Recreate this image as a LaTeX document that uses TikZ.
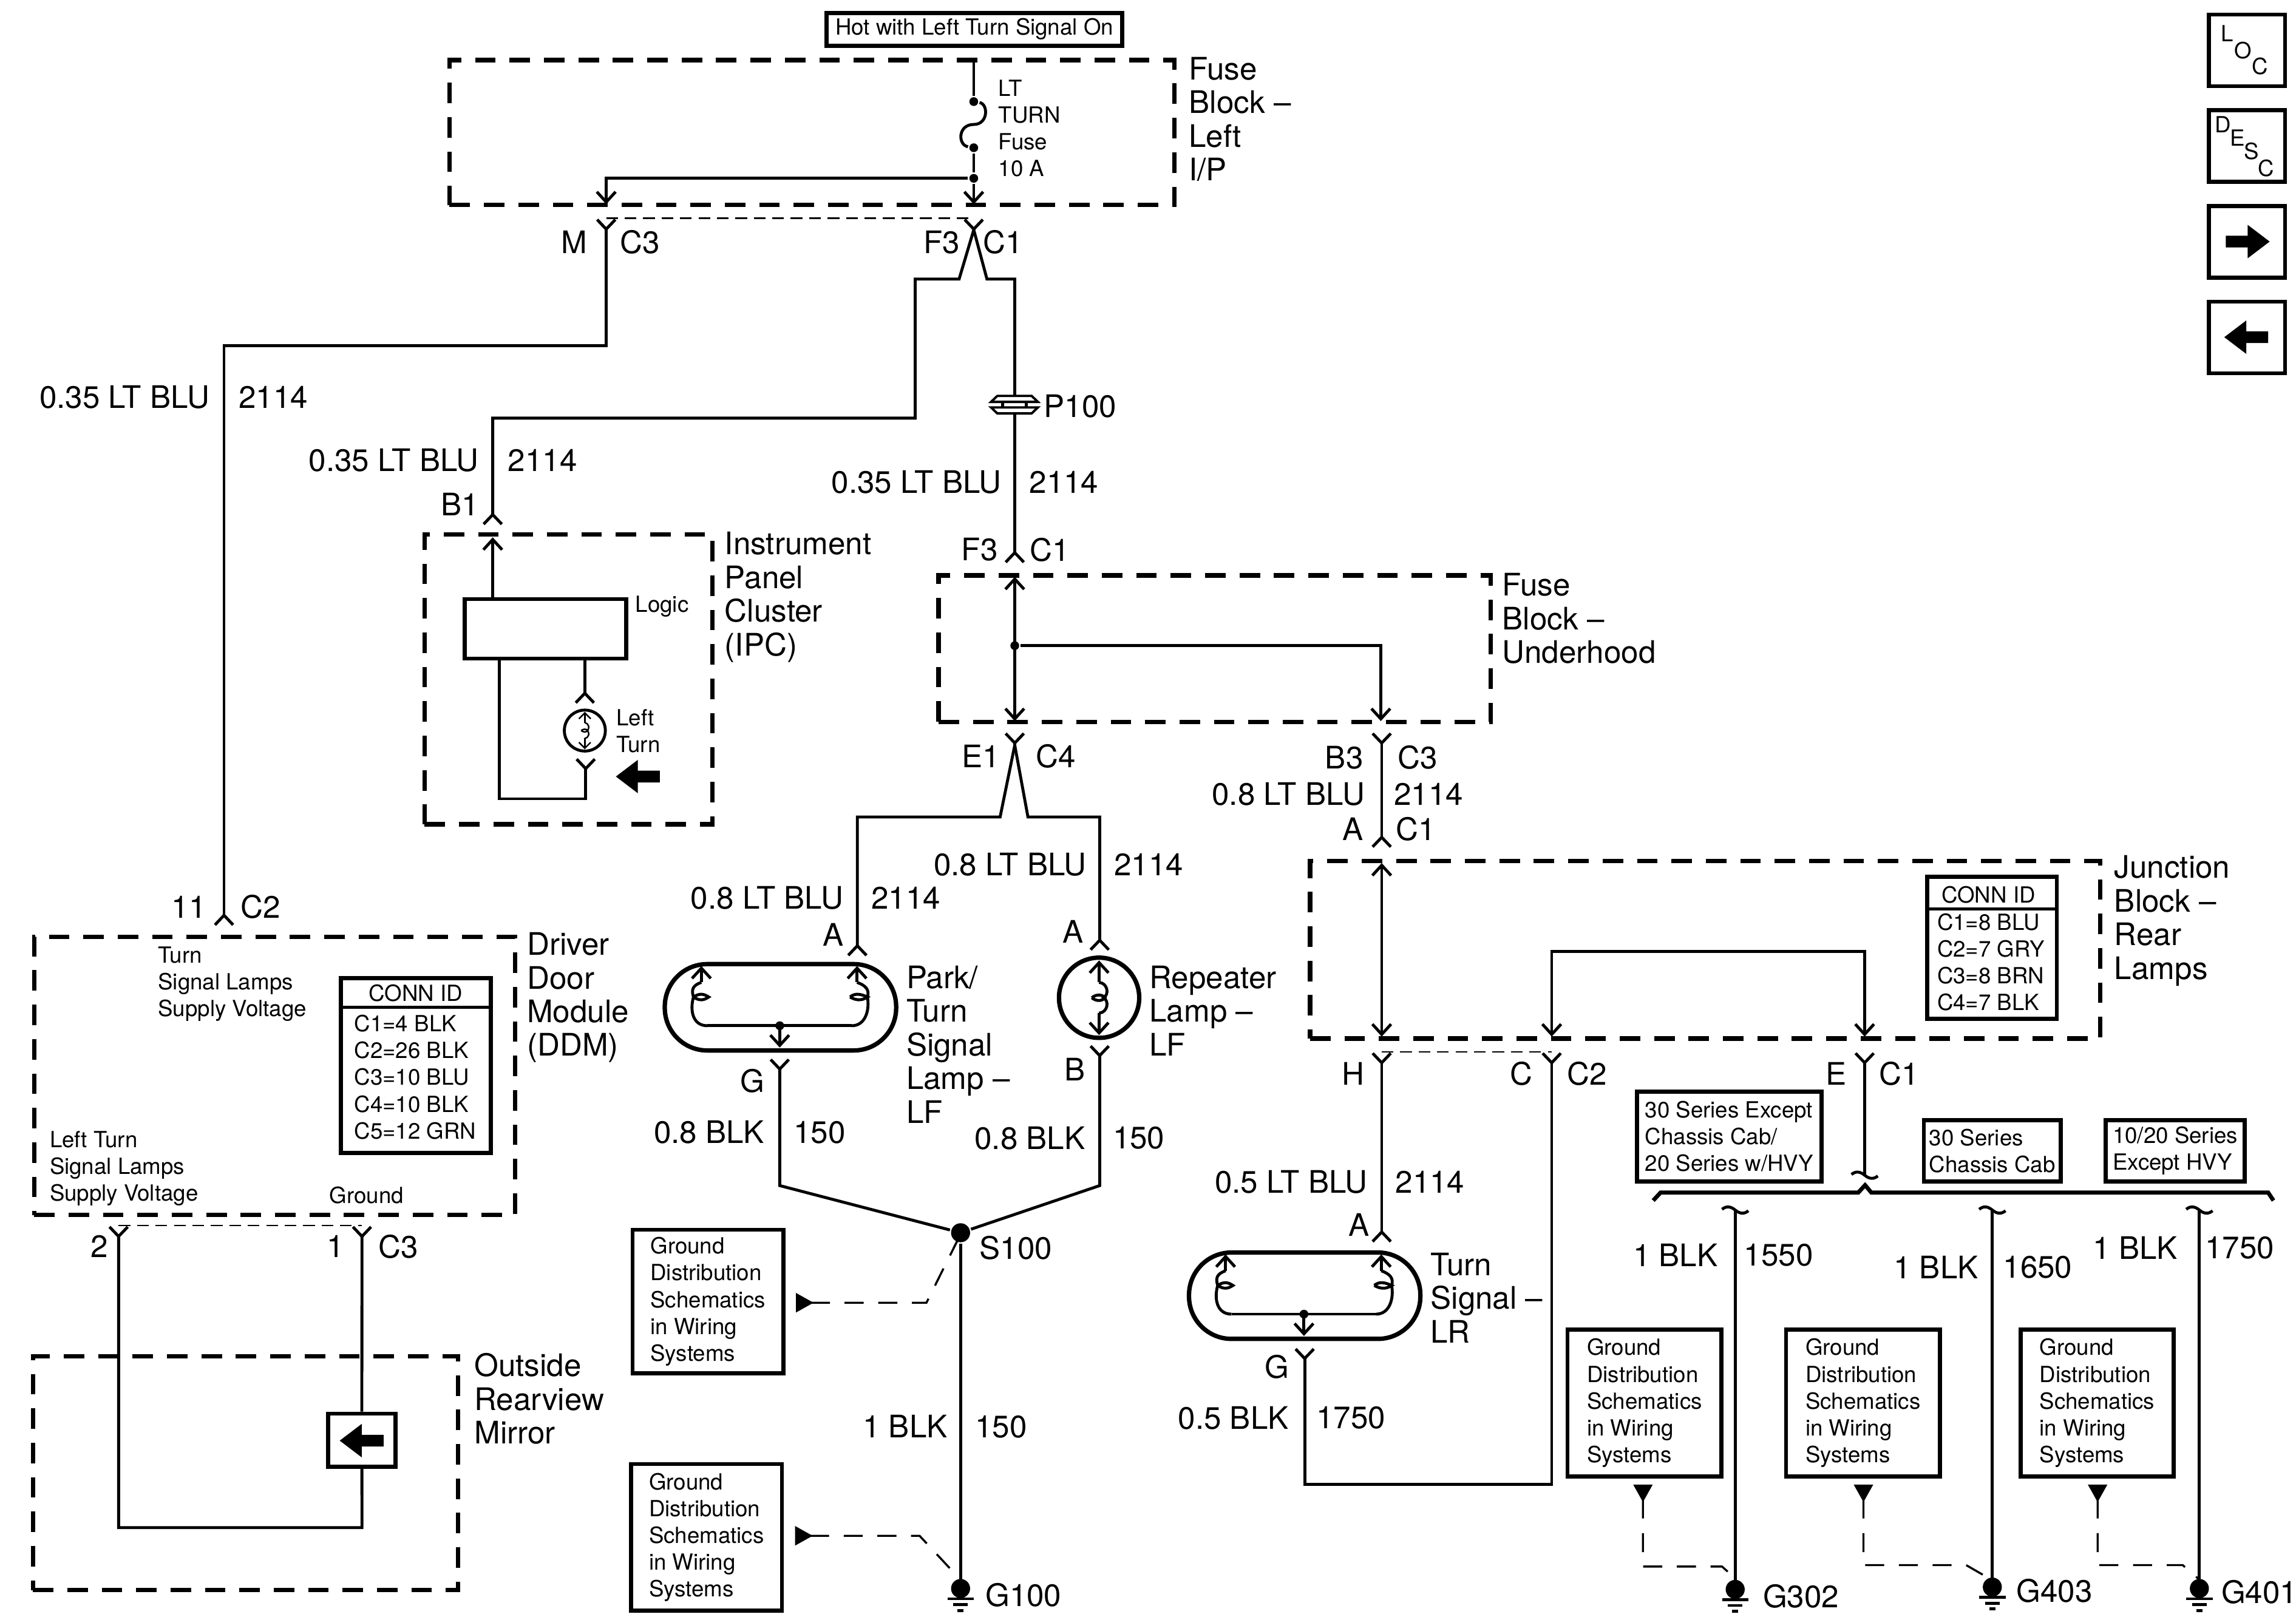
\documentclass[tikz,border=0pt]{standalone}
\usepackage{fontspec}
\setmainfont{TeX Gyre Heros}
\usetikzlibrary{arrows.meta}
\tikzset{
	pin/.tip={Straight Barb[reversed,length=3.25pt,width=6.2pt]},
	lbl/.style={font=\fontsize{10.6}{11.5}\selectfont,inner sep=0pt,align=left,yshift=-.2pt},
	sml/.style={font=\fontsize{7.6}{9.15}\selectfont,inner sep=0pt,align=left,yshift=-.1pt},
	dashbox/.style={draw,line width=1.5pt,dash pattern=on 7pt off 4.75pt,inner sep=0pt},
	framed/.style={draw,line width=1.4pt,inner sep=0pt,fill=white,font=\fontsize{7.6}{9.15}\selectfont,align=left},
	btn/.style={framed,minimum width=26pt,minimum height=24.5pt},
	gdash/.style={line width=.7pt,dash pattern=on 6.5pt off 5pt},
	pdash/.style={line width=.5pt,dash pattern=on 4pt off 2.3pt},
	tri/.tip={Triangle[reversed,length=6pt,width=6.5pt]},
	dot/.style={circle,fill,inner sep=0pt,minimum size=3pt},
	twinlamp/.pic={
		\draw[line width=1.5pt,rounded corners=14.5pt] (-79,-29.5) rectangle (79,29.5);
		\draw (-50,12.6) -- (48.7,12.6);
		\draw[->] (-54,-17) -- (-54,-28.2);
		\draw[->] (52.3,-17) -- (52.3,-28.2);
		\draw (-50,12.6) .. controls (-60,12.6) and (-62,2) .. (-59.4,-7) .. controls (-61,-12) and (-60,-15) .. (-54,-17);
		\draw (48.7,12.6) .. controls (58,12.6) and (61,2) .. (59.4,-7) .. controls (61,-12) and (58,-15) .. (52.3,-17);
		\draw (-59.4,-7) .. controls (-55,-10) and (-52,-9) .. (-49,-7) .. controls (-52,-5) and (-55,-4) .. (-59.4,-7);
		\draw (47.5,-7) .. controls (51,-10) and (55,-9) .. (59.4,-7) .. controls (55,-4) and (51,-5) .. (47.5,-7);
		\node(j) at (-.5,12.6)[dot]{};
		\draw[->] (-.5,12.6) -- (-.5,27.5);
	},
	filament/.pic={
		\draw[->] (0,-10.5) -- (0,-25.5);
		\draw[->] (0,10.5) -- (0,25.5);
		\draw (0,-10.5) .. controls (6,-10) and (7,-2) .. (3,0) .. controls (7,2) and (6,10) .. (0,10.5);
		\draw (-5,0) .. controls (-2,-2.5) and (2,-2.5) .. (4,0) .. controls (2,2.5) and (-2,2.5) .. (-5,0);
	},
	bigarrow/.pic={
		\fill (0,0) -- (15,-11.4) -- (15,-4) -- (30,-4) -- (30,4) -- (15,4) -- (15,11.4) -- cycle;
	},
	earth/.pic={
		\node(d) at (0,0)[dot,minimum size=6.5pt]{};
		\draw (-9,7) -- (9,7);
		\draw (-5,11) -- (5,11);
		\draw (-2,15) -- (2,15);
	},
	tilde/.pic={
		\draw (-9,-.5) .. controls (-6,-3) and (-3,-2.5) .. (0,0) .. controls (3,2.5) and (6,3) .. (9,.5);
	},
	splice/.pic={
		\fill[white] (-8,-2) rectangle (8,2);
		\draw[line width=.8pt,fill=white] (-11.7,-6) -- (11.7,-6) -- (16,-1.9) -- (-16,-1.9) -- cycle;
		\draw[line width=.8pt,fill=white] (-16,1.9) -- (16,1.9) -- (11.7,6) -- (-11.7,6) -- cycle;
		\draw (-8,-1.9) -- (-8,1.9);
		\draw (8,-1.9) -- (8,1.9);
	}
}
\begin{document}
\begin{tikzpicture}[x=.5pt,y=-.5pt,line width=1pt,>={Straight Barb[length=3.5pt,width=6.4pt]}]
	\useasboundingbox (0,0) rectangle (1568,1104.4);

	\node(fuseL) at (554.5,90.5)[dashbox,minimum width=247.5pt,minimum height=49.5pt]{};
	\node(ipc) at (388.25,464)[dashbox,minimum width=98.25pt,minimum height=99pt]{};
	\node(fuseU) at (829.5,443)[dashbox,minimum width=188.5pt,minimum height=50pt]{};
	\node(junc) at (1164.5,648.7)[dashbox,minimum width=269.85pt,minimum height=60.7pt]{};
	\node(ddm) at (187.5,734.8)[dashbox,minimum width=164.15pt,minimum height=95pt]{};
	\node(mirror) at (167.6,1006.3)[dashbox,minimum width=145.15pt,minimum height=79.75pt]{};

	\node(hot) at (665.5,20)[framed,minimum width=101pt,minimum height=11.15pt]{\raisebox{-.8pt}{Hot with Left Turn Signal On}};
	\node(tFuseL) at (811,81)[lbl,anchor=west]{Fuse\\Block --\\Left\\I/P};
	\node(tFuse) at (681,87.5)[sml,anchor=west]{LT\\TURN\\Fuse\\10 A};

	\coordinate(fuseTop) at (665,41);
	\node(fa) at (665,69.4)[dot]{};
	\coordinate(fm) at (665,85);
	\node(fb) at (665,100.9)[dot]{};
	\node(jF) at (665,121.8)[dot]{};
	\coordinate(f3In) at (665,139.5);
	\coordinate(mIn) at (414,139.5);
	\draw (fuseTop) -- (fa);
	\draw (fa) .. controls (675,71) and (675,85) .. (fm) .. controls (654,85) and (654,99) .. (fb);
	\draw (fb) -- (jF);
	\draw[->] (jF) -- (f3In);
	\draw[->] (jF) -| (mIn);

	\coordinate(mPin) at (414,149);
	\coordinate(f3Pin) at (665,149);
	\draw[pdash] (mPin) -- (f3Pin);
	\node(tM) at (392,165)[lbl]{M};
	\node(tC3) at (437,165)[lbl]{C3};
	\node(tF3) at (643,165)[lbl]{F3};
	\node(tC1) at (685,165)[lbl]{C1};

	\coordinate(ddmTurn) at (153,236);
	\coordinate(ddmPin) at (153,632.7);
	\draw[pin-pin] (mPin) |- (ddmTurn) -- (ddmPin);
	\node(t035a) at (144,271)[lbl,anchor=east]{0.35 LT BLU};
	\node(t2114a) at (162,271)[lbl,anchor=west]{2114};

	\coordinate(f3M) at (665,157);
	\coordinate(f3L) at (655,190.6);
	\coordinate(f3Lb) at (625,190.6);
	\coordinate(ipcTurn) at (625,285.6);
	\coordinate(b1Pin) at (336.5,359);
	\draw[pin-pin] (f3Pin) -- (f3M) -- (f3L) -- (f3Lb) -- (ipcTurn) -| (b1Pin);
	\node(t035b) at (328,314)[lbl,anchor=east]{0.35 LT BLU};
	\node(t2114b) at (346,314)[lbl,anchor=west]{2114};
	\node(tB1) at (314,344)[lbl]{B1};

	\coordinate(f3R) at (674,190.6);
	\coordinate(f3Rb) at (693,190.6);
	\coordinate(c1Pin) at (693,385);
	\draw[-pin] (f3M) -- (f3R) -- (f3Rb) -- (c1Pin);
	\pic(p100) at (692.8,276.4) {splice};
	\node(tP100) at (712,277)[lbl,anchor=west]{P100};
	\node(t035c) at (685,329)[lbl,anchor=east]{0.35 LT BLU};
	\node(t2114c) at (702,329)[lbl,anchor=west]{2114};
	\node(tF3b) at (669,375)[lbl]{F3};
	\node(tC1b) at (717,375)[lbl]{C1};

	\node(tIpc) at (494,407.5)[lbl,anchor=west]{Instrument\\Panel\\Cluster\\(IPC)};
	\coordinate(ipcOut) at (336.5,367);
	\node(logic) at (372.5,429.5)[framed,minimum width=55.2pt,minimum height=20.3pt]{};
	\node(tLogic) at (433,414)[sml,anchor=west]{Logic};
	\coordinate(logicTop) at (336.5,409.5);
	\draw[->] (logicTop) -- (ipcOut);
	\coordinate(logicA) at (341,450);
	\coordinate(logicB) at (399.4,450);
	\coordinate(lampTop) at (399.4,481);
	\coordinate(lampBot) at (400,517.5);
	\coordinate(ipcCorner) at (341,545.6);
	\draw[-pin] (logicB) -- (lampTop);
	\draw[pin-] (lampBot) |- (ipcCorner) -- (logicA);
	\node(ipcLamp) at (399.4,499)[circle,draw,line width=1pt,inner sep=0pt,minimum size=14pt]{};
	\pic(ipcFil)[scale=.5,line width=.5pt,>={Straight Barb[length=2pt,width=4pt]}] at (399.4,499) {filament};
	\node(tLeft) at (420,499)[sml,anchor=west]{Left\\Turn};
	\pic(ipcArrow) at (420.6,530.4) {bigarrow};

	\node(tFuseU) at (1025,422)[lbl,anchor=west]{Fuse\\Block --\\Underhood};
	\coordinate(uhTop) at (693,394);
	\coordinate(uhBot) at (693,492.5);
	\node(uhJ) at (693,441)[dot]{};
	\coordinate(b3In) at (943,492.5);
	\draw[<->] (uhTop) -- (uhBot);
	\draw[->] (uhJ) -| (b3In);

	\coordinate(e1Pin) at (693,500);
	\coordinate(e1M) at (693,509);
	\coordinate(e1L) at (683,558);
	\coordinate(e1Lb) at (585.5,558);
	\coordinate(e1R) at (702,558);
	\coordinate(e1Rb) at (751,558);
	\coordinate(parkPin) at (585.5,653.5);
	\coordinate(repPin) at (751,649.7);
	\draw[pin-] (e1Pin) -- (e1M);
	\draw[-pin] (e1M) -- (e1L) -- (e1Lb) -- (parkPin);
	\draw[-pin] (e1M) -- (e1R) -- (e1Rb) -- (repPin);
	\node(tE1) at (670,516)[lbl]{E1};
	\node(tC4) at (721,516)[lbl]{C4};
	\node(tB3) at (918,517)[lbl]{B3};
	\node(tC3b) at (968,517)[lbl]{C3};

	\node(t08a) at (577,613)[lbl,anchor=east]{0.8 LT BLU};
	\node(t2114d) at (594,613)[lbl,anchor=west]{2114};
	\node(t08b) at (743,590)[lbl,anchor=east]{0.8 LT BLU};
	\node(t2114e) at (760,590)[lbl,anchor=west]{2114};
	\node(tAa) at (569,638)[lbl]{A};
	\node(tAb) at (733,636)[lbl]{A};

	\pic(parkLamp) at (533,688) {twinlamp};
	\node(tPark) at (618,713)[lbl,anchor=west]{Park/\\Turn\\Signal\\Lamp --\\LF};
	\node(repLamp) at (750.6,681.5)[circle,draw,line width=1.5pt,inner sep=0pt,minimum size=27.4pt]{};
	\pic(repFil) at (750.6,681.5) {filament};
	\node(tRep) at (784,690)[lbl,anchor=west]{Repeater\\Lamp --\\LF};

	\coordinate(gPin) at (532.5,722.7);
	\coordinate(gBend) at (532.5,809.8);
	\coordinate(bPin) at (751,713.5);
	\coordinate(bBend) at (751,809.8);
	\node(s100) at (656,842)[dot,minimum size=6.5pt]{};
	\draw[pin-] (gPin) -- (gBend) -- (s100);
	\draw[pin-] (bPin) -- (bBend) -- (s100);
	\node(tG) at (514,738)[lbl]{G};
	\node(tB) at (734,730)[lbl]{B};
	\node(t08c) at (523,773)[lbl,anchor=east]{0.8 BLK};
	\node(t150a) at (541,773)[lbl,anchor=west]{150};
	\node(t08d) at (742,777)[lbl,anchor=east]{0.8 BLK};
	\node(t150b) at (759,777)[lbl,anchor=west]{150};
	\node(tS100) at (668,852)[lbl,anchor=west]{S100};

	\coordinate(g100) at (656,1085);
	\draw (s100) -- (g100);
	\pic(g100e) at (g100) {earth};
	\node(tG100) at (672,1089)[lbl,anchor=west]{G100};
	\node(t1a) at (648,974)[lbl,anchor=east]{1 BLK};
	\node(t150c) at (665,974)[lbl,anchor=west]{150};

	\node(gnd1) at (483.5,889)[framed,minimum width=51.5pt,minimum height=49pt]{Ground\\Distribution\\Schematics\\in Wiring\\Systems};
	\node(gnd2) at (482.5,1050)[framed,minimum width=51.5pt,minimum height=50pt]{Ground\\Distribution\\Schematics\\in Wiring\\Systems};
	\coordinate(g1a) at (543.6,889.8);
	\coordinate(g1b) at (632.7,889.8);
	\coordinate(g1c) at (656,843);
	\coordinate(g2a) at (543,1049);
	\coordinate(g2b) at (628,1049);
	\coordinate(g2c) at (655,1078);
	\draw[gdash,tri-] (g1a) -- (g1b) -- (g1c);
	\draw[gdash,tri-] (g2a) -- (g2b) -- (g2c);

	\node(tDdm) at (359,681)[lbl,anchor=west]{Driver\\Door\\Module\\(DDM)};
	\node(t11) at (129,619)[lbl]{11};
	\node(tC2) at (178,619)[lbl]{C2};
	\node(tTurn) at (107,672)[sml,anchor=west]{Turn\\Signal Lamps\\Supply Voltage};
	\node(tLeftT) at (33,798)[sml,anchor=west]{Left Turn\\Signal Lamps\\Supply Voltage};
	\node(tGround) at (224,816)[sml,anchor=west]{Ground};
	\node(connD) at (284,727.7)[framed,minimum width=51.3pt,minimum height=59.7pt]{};
	\coordinate(connDa) at (232.7,688);
	\coordinate(connDb) at (335.3,688);
	\draw (connDa) -- (connDb);
	\node(tConnD) at (284,678)[sml]{CONN ID};
	\node(tConnDl) at (241,735.5)[sml,anchor=west]{C1=4 BLK\\C2=26 BLK\\C3=10 BLU\\C4=10 BLK\\C5=12 GRN};

	\coordinate(pin2) at (81,837);
	\coordinate(pin1) at (247.2,837);
	\draw[pdash] (pin2) -- (pin1);
	\node(t2) at (68,851)[lbl]{2};
	\node(t1) at (229,851)[lbl]{1};
	\node(tC3c) at (272,851)[lbl]{C3};
	\node(tMirror) at (323,955)[lbl,anchor=west]{Outside\\Rearview\\Mirror};
	\node(motor) at (247.1,983.8)[framed,minimum width=23.1pt,minimum height=18.2pt]{};
	\coordinate(mirrorA) at (81,1043.4);
	\coordinate(mirrorB) at (247.2,1043.4);
	\draw[pin-] (pin1) -- (motor);
	\draw[pin-] (pin2) -- (mirrorA) -- (mirrorB) -- (motor);
	\pic(motorArrow) at (232,984) {bigarrow};

	\coordinate(b3Pin) at (943.6,500);
	\coordinate(jaPin) at (943.6,579.4);
	\draw[pin-pin] (b3Pin) -- (jaPin);
	\node(t08e) at (933,542)[lbl,anchor=east]{0.8 LT BLU};
	\node(t2114f) at (951,542)[lbl,anchor=west]{2114};
	\node(tAc) at (924,566)[lbl]{A};
	\node(tC1c) at (967,566)[lbl]{C1};

	\node(tJunc) at (1443,628.5)[lbl,anchor=west]{Junction\\Block --\\Rear\\Lamps};
	\coordinate(jaIn) at (943.6,589.5);
	\coordinate(jaOut) at (943.6,708);
	\coordinate(jcOut) at (1059.7,708);
	\coordinate(jeTop) at (1273.4,650);
	\coordinate(jeOut) at (1273.4,708);
	\draw[<->] (jaIn) -- (jaOut);
	\draw[<->] (jcOut) |- (jeTop) -- (jeOut);
	\node(connJ) at (1360.3,647.5)[framed,minimum width=44.3pt,minimum height=48.5pt]{};
	\coordinate(connJa) at (1316,620.7);
	\coordinate(connJb) at (1404.7,620.7);
	\draw (connJa) -- (connJb);
	\node(tConnJ) at (1358,611)[sml]{CONN ID};
	\node(tConnJl) at (1322,657)[sml,anchor=west]{C1=8 BLU\\C2=7 GRY\\C3=8 BRN\\C4=7 BLK};

	\coordinate(hPin) at (943.6,718.4);
	\coordinate(cPin) at (1059.7,718.4);
	\coordinate(ePin) at (1273.4,718.4);
	\draw[pdash] (hPin) -- (cPin);
	\node(tH) at (924,733)[lbl]{H};
	\node(tC) at (1039,733)[lbl]{C};
	\node(tC2b) at (1084,733)[lbl]{C2};
	\node(tE) at (1254,733)[lbl]{E};
	\node(tC1d) at (1297,733)[lbl]{C1};

	\coordinate(lrA) at (943.6,849);
	\coordinate(lrG) at (891,920.4);
	\coordinate(lrBend) at (891,1013.8);
	\coordinate(cBend) at (1059.7,1013.8);
	\draw[pin-pin] (hPin) -- (lrA);
	\draw[pin-pin] (cPin) -- (cBend) -- (lrBend) -- (lrG);
	\pic(lrLamp) at (891,885) {twinlamp};
	\node(tLr) at (976,886)[lbl,anchor=west]{Turn\\Signal --\\LR};
	\node(t05a) at (935,807)[lbl,anchor=east]{0.5 LT BLU};
	\node(t2114g) at (952,807)[lbl,anchor=west]{2114};
	\node(tAd) at (928,836)[lbl]{A};
	\node(tGb) at (872,933)[lbl]{G};
	\node(t05b) at (881,968)[lbl,anchor=east]{0.5 BLK};
	\node(t1750a) at (898,968)[lbl,anchor=west]{1750};

	\node(opt1) at (1180.9,776.3)[framed,minimum width=63pt,minimum height=30.7pt]{30 Series Except\\Chassis Cab/\\20 Series w/HVY};
	\node(opt2) at (1360.6,786)[framed,minimum width=46.8pt,minimum height=21pt]{30 Series\\Chassis Cab};
	\node(opt3) at (1485.5,786)[framed,minimum width=47.5pt,minimum height=21pt]{10/20 Series\\Except HVY};

	\coordinate(eTil) at (1273.4,802.7);
	\draw[pin-] (ePin) -- (eTil);
	\pic(eTilde) at (eTil) {tilde};
	\coordinate(brA) at (1129,820);
	\coordinate(brB) at (1134,814.6);
	\coordinate(brC) at (1269,814.6);
	\coordinate(brD) at (1273.7,809.5);
	\coordinate(brE) at (1278,814.6);
	\coordinate(brF) at (1549,814.6);
	\coordinate(brG) at (1552.6,820);
	\draw[line width=1.4pt] (brA) -- (brB) -- (brC) -- (brD) -- (brE) -- (brF) -- (brG);

	\coordinate(w1) at (1185,826.5);
	\coordinate(w2) at (1360.6,826.5);
	\coordinate(w3) at (1502,826.5);
	\coordinate(g302) at (1185,1085.6);
	\coordinate(g403) at (1360.6,1084);
	\coordinate(g401) at (1502,1085);
	\draw (w1) -- (g302);
	\draw (w2) -- (g403);
	\draw (w3) -- (g401);
	\pic(til1) at (w1) {tilde};
	\pic(til2) at (w2) {tilde};
	\pic(til3) at (w3) {tilde};
	\pic(e302) at (g302) {earth};
	\pic(e403) at (g403) {earth};
	\pic(e401) at (g401) {earth};
	\node(tG302) at (1203,1090)[lbl,anchor=west]{G302};
	\node(tG403) at (1376,1086)[lbl,anchor=west]{G403};
	\node(tG401) at (1516,1087)[lbl,anchor=west]{G401};
	\node(t1b) at (1174,857)[lbl,anchor=east]{1 BLK};
	\node(t1550) at (1190,857)[lbl,anchor=west]{1550};
	\node(t1c) at (1352,865)[lbl,anchor=east]{1 BLK};
	\node(t1650) at (1367,865)[lbl,anchor=west]{1650};
	\node(t1d) at (1488,852)[lbl,anchor=east]{1 BLK};
	\node(t1750b) at (1505,852)[lbl,anchor=west]{1750};

	\node(gnd3) at (1123.1,958.3)[framed,minimum width=52.6pt,minimum height=50.3pt]{Ground\\Distribution\\Schematics\\in Wiring\\Systems};
	\node(gnd4) at (1272.3,958.3)[framed,minimum width=52.6pt,minimum height=50.3pt]{Ground\\Distribution\\Schematics\\in Wiring\\Systems};
	\node(gnd5) at (1432.2,958.3)[framed,minimum width=52.3pt,minimum height=50.3pt]{Ground\\Distribution\\Schematics\\in Wiring\\Systems};
	\coordinate(g3a) at (1122,1014);
	\coordinate(g3b) at (1122,1070);
	\coordinate(g3c) at (1176,1070);
	\coordinate(g3d) at (1185,1078);
	\coordinate(g4a) at (1272.6,1014);
	\coordinate(g4b) at (1272.6,1069);
	\coordinate(g4c) at (1342.7,1069);
	\coordinate(g4d) at (1360,1079);
	\coordinate(g5a) at (1432.5,1014);
	\coordinate(g5b) at (1432.5,1069);
	\coordinate(g5c) at (1490.6,1069);
	\coordinate(g5d) at (1502,1079);
	\draw[gdash,tri-] (g3a) -- (g3b) -- (g3c) -- (g3d);
	\draw[gdash,tri-] (g4a) -- (g4b) -- (g4c) -- (g4d);
	\draw[gdash,tri-] (g5a) -- (g5b) -- (g5c) -- (g5d);

	\node(btnLoc) at (1534.5,34.4)[btn]{};
	\node(btnDesc) at (1534.5,99.8)[btn]{};
	\node(btnNext) at (1534.5,165.2)[btn]{};
	\node(btnPrev) at (1534.5,230.5)[btn]{};
	\node(locL) at (1521,22.7)[sml]{L};
	\node(locO) at (1532,34.4)[sml]{O};
	\node(locC) at (1543.6,45)[sml]{C};
	\node(descD) at (1518,85)[sml]{D};
	\node(descE) at (1528,93.8)[sml]{E};
	\node(descS) at (1537.6,103)[sml]{S};
	\node(descC) at (1547.5,114.5)[sml]{C};
	\pic(nextArrow)[xscale=-1] at (1550,165) {bigarrow};
	\pic(prevArrow) at (1519,230.3) {bigarrow};
\end{tikzpicture}
\end{document}
